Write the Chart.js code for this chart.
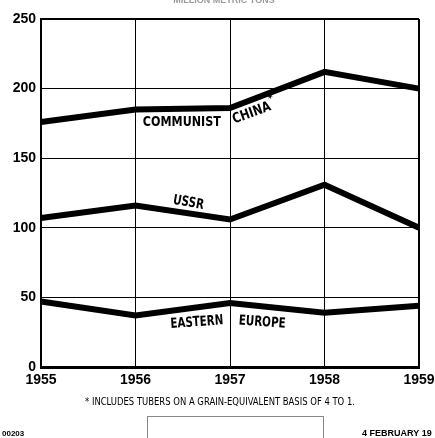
<!DOCTYPE html>
<html>
<head>
<meta charset="utf-8">
<script src="https://cdn.jsdelivr.net/npm/chart.js@4/dist/chart.umd.min.js"></script>
<style>
  html, body { margin: 0; padding: 0; background: #fff; overflow: hidden; }
  #wrap { width: 435px; height: 438px; overflow: hidden; position: relative; }
  canvas { display: block; }
</style>
</head>
<body>
<div id="wrap"><canvas id="chart" width="450" height="438"></canvas></div>
<script>
// grain production, million metric tons
const years = ['1955', '1956', '1957', '1958', '1959'];
const chinaValues = [176, 185, 186, 212, 200];
const ussrValues = [107, 116, 106, 131, 100];
const easternEuropeValues = [47, 37, 46, 39, 44];
const yTicks = [0, 50, 100, 150, 200, 250];

const titleText = 'MILLION METRIC TONS';
const footnoteText = '* INCLUDES TUBERS ON A GRAIN-EQUIVALENT BASIS OF 4 TO 1.';
const codeText = '00203';
const dateText = '4 FEBRUARY 19';

// series labels, anchored in data space (category index, value)
const seriesLabels = [
  { text: 'COMMUNIST', at: [1.49, 176], rot: 0, w: 78 },
  { text: 'CHINA*', at: [2.26, 183], rot: -20, w: 40 },
  { text: 'USSR', at: [1.56, 118], rot: 10, w: 31 },
  { text: 'EASTERN', at: [1.65, 32], rot: -4, w: 53 },
  { text: 'EUROPE', at: [2.34, 32], rot: 4, w: 47 }
];

const labelFont = "bold 14px 'DejaVu Sans Condensed', 'DejaVu Sans', sans-serif";

const annotations = {
  id: 'annotations',
  afterDatasetsDraw(chart) {
    const ctx = chart.ctx;
    const xs = chart.scales.x, ys = chart.scales.y;
    ctx.save();
    ctx.fillStyle = '#000';
    ctx.textAlign = 'center';
    ctx.textBaseline = 'middle';
    seriesLabels.forEach(l => {
      const px = xs.getPixelForValue(l.at[0]);
      const py = ys.getPixelForValue(l.at[1]);
      ctx.save();
      ctx.translate(px, py);
      ctx.rotate(l.rot * Math.PI / 180);
      ctx.font = labelFont;
      if (l.text.endsWith('*')) {
        const base = l.text.slice(0, -1);
        ctx.fillText(base, -3, 0, l.w);
        ctx.font = "bold 9px 'DejaVu Sans', sans-serif";
        ctx.fillText('*', -3 + l.w / 2 + 3, -7);
      } else {
        ctx.fillText(l.text, 0, 0, l.w);
      }
      ctx.restore();
    });

    // faint heading, cut off at top
    ctx.fillStyle = '#9a9a9a';
    ctx.font = "bold 9px 'Liberation Sans', sans-serif";
    ctx.fillText(titleText, 224, 1, 115);

    // footnote
    ctx.fillStyle = '#000';
    ctx.font = "11px 'DejaVu Sans Condensed', 'DejaVu Sans', sans-serif";
    ctx.fillText(footnoteText, 220, 402, 270);

    // bottom strip
    ctx.font = "bold 8px 'Liberation Sans', sans-serif";
    ctx.textAlign = 'left';
    ctx.fillText(codeText, 2, 434);
    ctx.font = "bold 9px 'Liberation Sans', sans-serif";
    ctx.fillText(dateText, 362, 434);
    ctx.strokeStyle = '#888';
    ctx.lineWidth = 1;
    ctx.strokeRect(147.5, 416.5, 176, 30);
    ctx.restore();
  }
};

const lineStyle = {
  borderColor: '#000',
  borderWidth: 6,
  pointRadius: 0,
  tension: 0,
  fill: false,
  borderJoinStyle: 'miter',
  borderCapStyle: 'butt'
};

new Chart(document.getElementById('chart'), {
  type: 'line',
  data: {
    labels: years,
    datasets: [
      { label: 'Communist China', data: chinaValues, ...lineStyle },
      { label: 'USSR', data: ussrValues, ...lineStyle },
      { label: 'Eastern Europe', data: easternEuropeValues, ...lineStyle }
    ]
  },
  options: {
    responsive: false,
    animation: false,
    // plot area: left 41, top 19, right 419, bottom 367
    layout: { padding: { top: 19, right: 31, bottom: 44.2, left: 0 } },
    plugins: { legend: { display: false }, tooltip: { enabled: false } },
    scales: {
      x: {
        offset: false,
        grid: {
          color: '#000',
          lineWidth: ctx => (ctx.index === years.length - 1 ? 2 : 1),
          drawTicks: false
        },
        border: { color: '#000', width: 3 },
        ticks: {
          color: '#000',
          padding: 5,
          maxRotation: 0,
          autoSkip: false,
          font: { family: "'Liberation Sans', sans-serif", size: 14, weight: 'bold' }
        }
      },
      y: {
        min: 0,
        max: 250,
        afterBuildTicks: scale => { scale.ticks = yTicks.map(v => ({ value: v })); },
        grid: {
          color: '#000',
          lineWidth: ctx => (ctx.tick && ctx.tick.value === 250 ? 2 : 1),
          drawTicks: false
        },
        border: { color: '#000', width: 2 },
        ticks: {
          color: '#000',
          padding: 5,
          font: { family: "'Liberation Sans', sans-serif", size: 14, weight: 'bold' }
        },
        afterFit: scale => { scale.width = 41; }
      }
    }
  },
  plugins: [annotations]
});
</script>
</body>
</html>
